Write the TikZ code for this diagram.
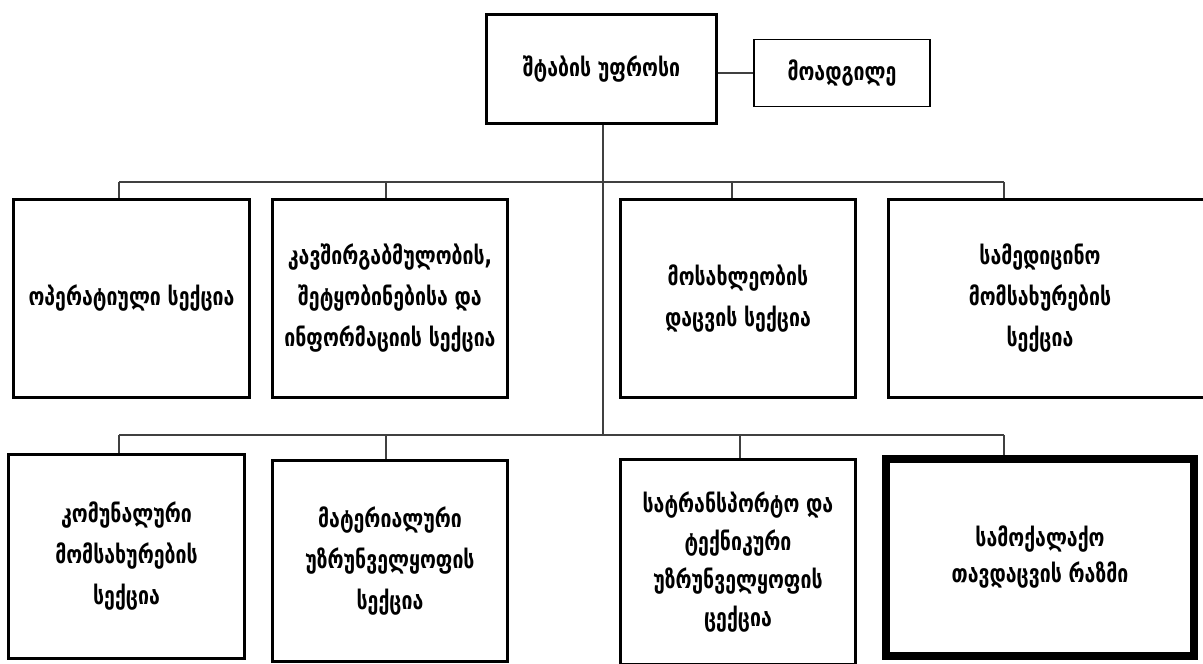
\documentclass[tikz,border=0pt]{standalone}
\usepackage{fontspec}
\setmainfont{DejaVu Sans}
\newfontfamily\geo[Script=Georgian,FakeStretch=0.78]{DejaVu Sans Bold}
\begin{document}
\begin{tikzpicture}[x=1pt,y=-1pt,
  box/.style={draw=black,line width=3pt,fill=white,rectangle,align=center,inner sep=0pt,
    font=\geo\fontsize{25}{41}\selectfont},
  conn/.style={draw=black!75,line width=1.5pt}]
\useasboundingbox (0,0) rectangle (1203,664);
\fill[white] (0,0) rectangle (1203,664);
% connectors
\coordinate (t1) at (119,182);
\coordinate (t2) at (386,182);
\coordinate (t3) at (732,182);
\coordinate (t4) at (1004,182);
\coordinate (u1) at (119,435);
\coordinate (u2) at (386,435);
\coordinate (u3) at (740,435);
\coordinate (u4) at (1004,435);
\coordinate (mid) at (603,435);
% nodes
\node[box,minimum width=230pt,minimum height=109pt] (chief) at (601.5,69) {შტაბის უფროსი};
\node[box,line width=1.5pt,minimum width=176pt,minimum height=67pt] (dep) at (842,73) {მოადგილე};
\node[box,minimum width=236pt,minimum height=198pt] (b1) at (131.5,298.5) {ოპერატიული სექცია};
\node[box,minimum width=235pt,minimum height=198pt] (b2) at (390,298.5) {კავშირგაბმულობის,\\შეტყობინებისა და\\ინფორმაციის სექცია};
\node[box,minimum width=235pt,minimum height=198pt] (b3) at (738,298.5) {მოსახლეობის\\დაცვის სექცია};
\node[box,minimum width=330pt,minimum height=198pt] (b4) at (1053.5,298.5) {};
\node[font=\geo\fontsize{25}{41}\selectfont,align=center,inner sep=0pt] (b4t) at (1040,298.5) {სამედიცინო\\მომსახურების\\სექცია};
\node[box,minimum width=236pt,minimum height=204pt] (b5) at (126.5,556.5) {კომუნალური\\მომსახურების\\სექცია};
\node[box,minimum width=235pt,minimum height=201pt] (b6) at (390,561) {მატერიალური\\უზრუნველყოფის\\სექცია};
\node[box,minimum width=235pt,minimum height=205pt,font=\geo\fontsize{25}{38}\selectfont] (b7) at (738,562) {სატრანსპორტო და\\ტექნიკური\\უზრუნველყოფის\\ცექცია};
\node[box,line width=8pt,minimum width=308pt,minimum height=197pt,font=\geo\fontsize{25}{36}\selectfont] (b8) at (1040,557.5) {სამოქალაქო\\თავდაცვის რაზმი};
% lines
\draw[conn] (dep.west -| chief.east) -- (dep.west);
\draw[conn] (chief.south -| mid) -- (mid);
\draw[conn] (t1) -- (t4);
\draw[conn] (u1) -- (u4);
\draw[conn] (t1) -- (t1 |- b1.north);
\draw[conn] (t2) -- (t2 |- b2.north);
\draw[conn] (t3) -- (t3 |- b3.north);
\draw[conn] (t4) -- (t4 |- b4.north);
\draw[conn] (u1) -- (u1 |- b5.north);
\draw[conn] (u2) -- (u2 |- b6.north);
\draw[conn] (u3) -- (u3 |- b7.north);
\draw[conn] (u4) -- (u4 |- b8.north);
\end{tikzpicture}
\end{document}
